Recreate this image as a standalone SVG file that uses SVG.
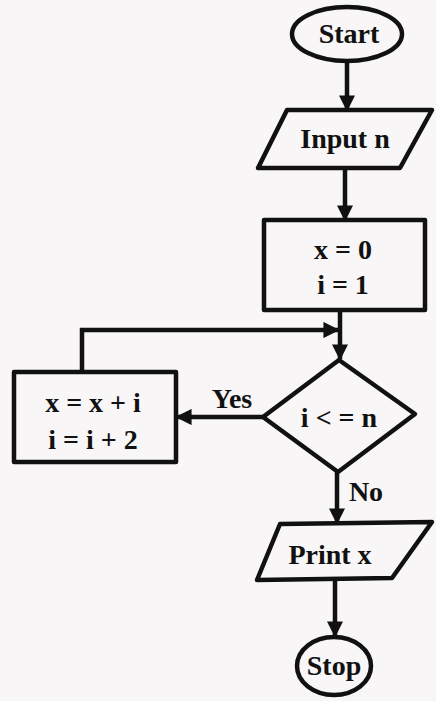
<svg xmlns="http://www.w3.org/2000/svg" width="436" height="701" viewBox="0 0 436 701">
<defs>
<marker id="ah" viewBox="0 0 10 10" refX="9" refY="5" markerWidth="3.6" markerHeight="3.6" orient="auto" markerUnits="strokeWidth">
<path d="M0,0 L10,5 L0,10 z" fill="#111"/>
</marker>
<style>
.s{fill:none;stroke:#111;stroke-width:4.5;stroke-linejoin:round}
.c{fill:none;stroke:#111;stroke-width:4.5}
.t{font-family:"Liberation Serif","Times New Roman",serif;font-weight:bold;font-size:28px;fill:#111;text-anchor:middle}
</style>
</defs>
<rect width="436" height="701" fill="#f8f6f6"/>
<g id="connectors">
<line class="c" x1="347" y1="61" x2="347" y2="110" marker-end="url(#ah)"/>
<line class="c" x1="345" y1="168" x2="345" y2="220" marker-end="url(#ah)"/>
<line class="c" x1="340" y1="310" x2="340" y2="359" marker-end="url(#ah)"/>
<polyline class="c" points="82,372 82,330 338,330" marker-end="url(#ah)"/>
<line class="c" x1="263" y1="417" x2="177" y2="417" marker-end="url(#ah)"/>
<line class="c" x1="337" y1="472" x2="337" y2="523" marker-end="url(#ah)"/>
<line class="c" x1="335" y1="580" x2="335" y2="636" marker-end="url(#ah)"/>
<text class="t" x="232" y="408">Yes</text>
<text class="t" x="366" y="501">No</text>
</g>
<g id="start">
<ellipse class="s" cx="347" cy="34" rx="55" ry="27"/>
<text class="t" x="349" y="43">Start</text>
</g>
<g id="input">
<polygon class="s" points="287,110 432,110 400,168 258,168"/>
<text class="t" x="345" y="148">Input n</text>
</g>
<g id="init">
<rect class="s" x="264" y="220" width="161" height="90"/>
<text class="t" x="343" y="259">x = 0</text>
<text class="t" x="343" y="294">i = 1</text>
</g>
<g id="decision">
<polygon class="s" points="339,360 415,414 338,472 263,417"/>
<text class="t" x="339" y="427">i &lt; = n</text>
</g>
<g id="update">
<rect class="s" x="14" y="372" width="162" height="90"/>
<text class="t" x="93" y="412">x = x + i</text>
<text class="t" x="93" y="449">i = i + 2</text>
</g>
<g id="print">
<polygon class="s" points="280,524 432,522 392,578 257,580"/>
<text class="t" x="330" y="564">Print x</text>
</g>
<g id="stop">
<ellipse class="s" cx="334" cy="666" rx="37" ry="29"/>
<text class="t" x="334" y="675">Stop</text>
</g>
</svg>
